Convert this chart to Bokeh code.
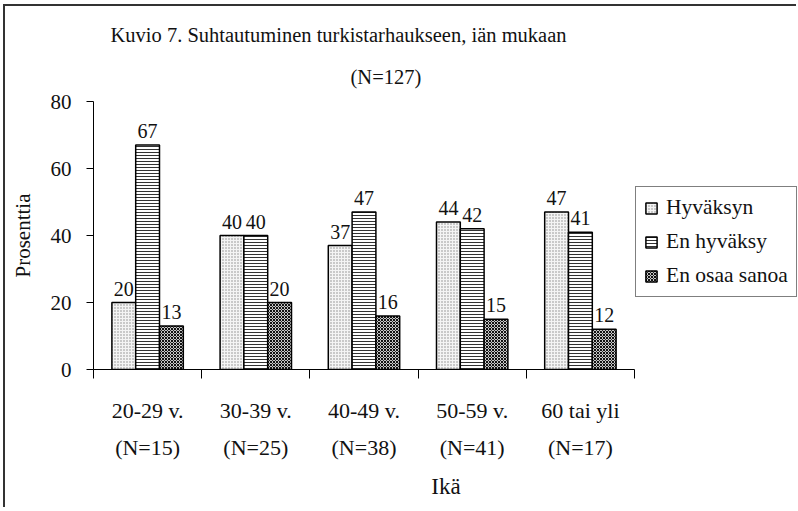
from bokeh.plotting import figure
from bokeh.models import FixedTicker, Legend, LegendItem, Title, ColumnDataSource
from bokeh.core.properties import value
from bokeh.transform import dodge
from bokeh.embed import file_html
from bokeh.resources import INLINE

# ---- data ----
categories = ["20-29 v.", "30-39 v.", "40-49 v.", "50-59 v.", "60 tai yli"]
group_n = ["(N=15)", "(N=25)", "(N=38)", "(N=41)", "(N=17)"]
hyvaksyn = [20, 40, 37, 44, 47]
en_hyvaksy = [67, 40, 47, 42, 41]
en_osaa_sanoa = [13, 20, 16, 15, 12]
series_names = ["Hyväksyn", "En hyväksy", "En osaa sanoa"]
y_ticks = [0, 20, 40, 60, 80]
title_line1 = "Kuvio 7. Suhtautuminen turkistarhaukseen, iän mukaan"
title_line2 = "(N=127)"
x_title = "Ikä"
y_title = "Prosenttia"

FONT = "Liberation Serif"
INK = "#111111"

n_cat = len(categories)
centers = [i + 0.5 for i in range(n_cat)]
src = ColumnDataSource(dict(
    x=centers,
    s1=hyvaksyn, s2=en_hyvaksy, s3=en_osaa_sanoa,
    t1=[str(v) for v in hyvaksyn],
    t2=[str(v) for v in en_hyvaksy],
    t3=[str(v) for v in en_osaa_sanoa],
))

# frame: 541 px for the 5 categories; extended to the right to hold the legend
W, H = 793, 503
LEFT, TOP, BOTTOM = 88, 95, 140
FRAME_W = W - LEFT
x_end = n_cat * FRAME_W / 541.0

p = figure(width=W, height=H, x_range=(0, x_end), y_range=(0, 80),
           output_backend="svg", toolbar_location=None,
           min_border_left=LEFT, min_border_right=0,
           min_border_top=TOP, min_border_bottom=BOTTOM)
p.outline_line_color = None
p.xgrid.visible = False
p.ygrid.visible = False
p.background_fill_color = "white"
p.border_fill_color = "white"

bw = 0.22
styles = [
    dict(fill_color="#f4f4f4", hatch_pattern="dot", hatch_color="#8a8a8a", hatch_scale=3),
    dict(fill_color="white", hatch_pattern="horizontal_line", hatch_color="#333333",
         hatch_scale=3, hatch_weight=1),
    dict(fill_color="#c8c8c8", hatch_pattern="diagonal_cross", hatch_color="#111111",
         hatch_scale=3, hatch_weight=1),
]
offsets = [-bw, 0, bw]
renderers = []
for k, (col, off, st) in enumerate(zip(["s1", "s2", "s3"], offsets, styles)):
    r = p.vbar(x=dodge("x", off), top=col, bottom=0, width=bw, source=src,
               line_color="black", line_width=1.5, **st)
    renderers.append(r)
    p.text(x=dodge("x", off), y=col, text="t%d" % (k + 1), source=src,
           text_align="center", text_baseline="bottom", y_offset=-7,
           text_font=value(FONT), text_font_size=value("20px"), text_color=INK)

# y axis
yax = p.yaxis[0]
yax.ticker = FixedTicker(ticks=y_ticks, minor_ticks=[])
yax.major_tick_out = 7
yax.major_tick_in = 0
yax.minor_tick_line_color = None
yax.axis_line_color = "black"
yax.major_tick_line_color = "black"
yax.major_label_standoff = 15
yax.major_label_text_font = FONT
yax.major_label_text_font_size = "21px"
yax.major_label_text_color = INK
yax.axis_label = y_title
yax.axis_label_text_font = FONT
yax.axis_label_text_font_size = "21px"
yax.axis_label_text_font_style = "normal"
yax.axis_label_text_color = INK
yax.axis_label_standoff = 13

# x axis (line only across the categories)
xax = p.xaxis[0]
xax.bounds = (0, n_cat)
xax.ticker = FixedTicker(ticks=centers, minor_ticks=list(range(n_cat + 1)))
xax.major_label_overrides = {c: "%s\n%s" % (a, b) for c, a, b in zip(centers, categories, group_n)}
xax.major_tick_out = 0
xax.major_tick_in = 0
xax.minor_tick_out = 9
xax.minor_tick_in = 0
xax.minor_tick_line_color = "black"
xax.axis_line_color = "black"
xax.major_label_standoff = 19
xax.major_label_text_font = FONT
xax.major_label_text_font_size = "22px"
xax.major_label_text_line_height = 1.5
xax.major_label_text_color = INK
xax.axis_label = x_title
xax.axis_label_text_font = FONT
xax.axis_label_text_font_size = "23px"
xax.axis_label_text_font_style = "normal"
xax.axis_label_text_color = INK
xax.axis_label_standoff = 11

# title (two lines, nearest-to-frame added first)
p.title.visible = False
t2 = Title(text=title_line2, align="left", offset=257, standoff=27,
           text_font=FONT, text_font_size="20.5px", text_font_style="normal", text_color=INK)
t1 = Title(text=title_line1, align="left", offset=17, standoff=10,
           text_font=FONT, text_font_size="20.5px", text_font_style="normal", text_color=INK)
p.add_layout(t2, "above")
p.add_layout(t1, "above")

legend = Legend(items=[LegendItem(label=n, renderers=[r]) for n, r in zip(series_names, renderers)],
                location=(542, 72), margin=0, padding=8, spacing=9,
                label_height=22, glyph_height=14, glyph_width=14, label_standoff=8,
                label_text_font=FONT, label_text_font_size="21.5px", label_text_color=INK,
                border_line_color="black", border_line_width=1,
                background_fill_color="white", background_fill_alpha=1)
p.add_layout(legend, "center")

p.styles = {"position": "relative", "left": "5px", "top": "6px",
            "box-shadow": "-2px -2px 0px 0px #333333"}

open("out.html", "w").write(file_html(p, INLINE))
